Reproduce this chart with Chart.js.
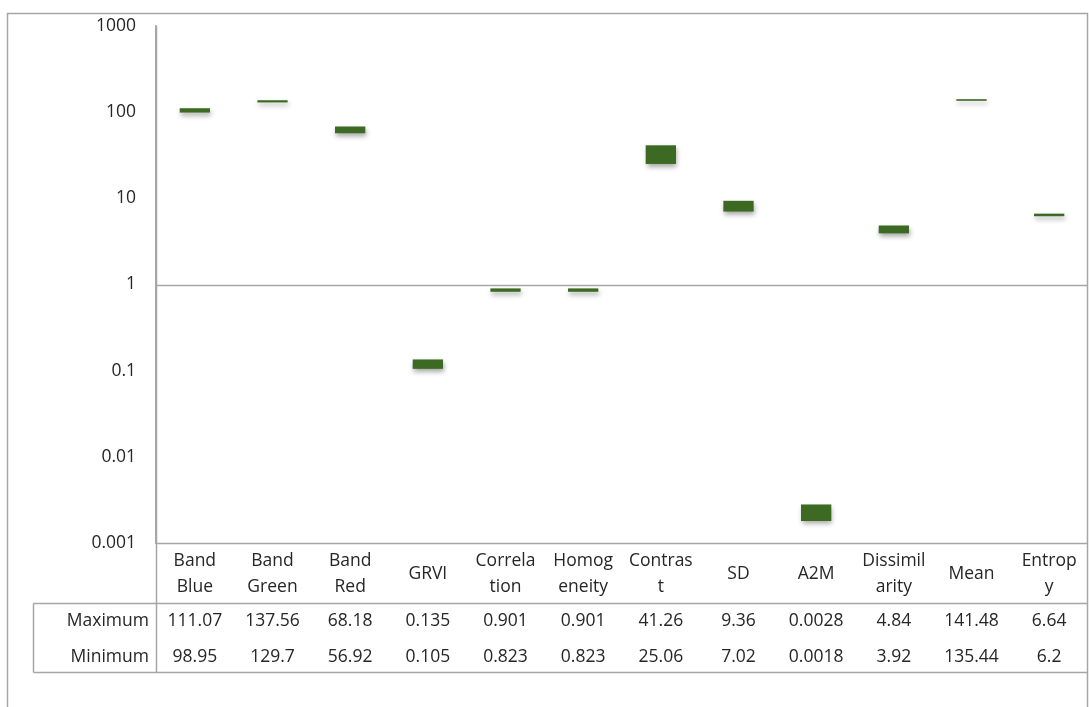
<!DOCTYPE html>
<html>
<head>
<meta charset="utf-8">
<style>
html,body{margin:0;padding:0;background:#fff;}
#wrap{position:relative;width:1089px;height:707px;}
canvas{display:block;}
</style>
<script src="https://cdn.jsdelivr.net/npm/chart.js@4.4.1/dist/chart.umd.min.js"></script>
</head>
<body>
<div id="wrap"><canvas id="c" width="1089" height="707"></canvas></div>
<script>
// ---- data ----
const categories = [
  ["Band","Blue"],["Band","Green"],["Band","Red"],["GRVI"],["Correla","tion"],
  ["Homog","eneity"],["Contras","t"],["SD"],["A2M"],["Dissimil","arity"],["Mean"],["Entrop","y"]
];
const maximumValues = [111.07,137.56,68.18,0.135,0.901,0.901,41.26,9.36,0.0028,4.84,141.48,6.64];
const minimumValues = [98.95,129.7,56.92,0.105,0.823,0.823,25.06,7.02,0.0018,3.92,135.44,6.2];
const maximumLabels = ["111.07","137.56","68.18","0.135","0.901","0.901","41.26","9.36","0.0028","4.84","141.48","6.64"];
const minimumLabels = ["98.95","129.7","56.92","0.105","0.823","0.823","25.06","7.02","0.0018","3.92","135.44","6.2"];
const rowNames = ["Maximum","Minimum"];
const yTickValues = [0.001,0.01,0.1,1,10,100,1000];
const yTickLabels = ["0.001","0.01","0.1","1","10","100","1000"];

const FONT = '"Open Sans", "Liberation Sans", sans-serif';
const FSIZE = 17.5;
const TXT = '#262626';
const LINE = '#a6a6a6';

const tablePlugin = {
  id: 'tablePlugin',
  beforeDraw(chart){
    const ctx = chart.ctx;
    ctx.save();
    ctx.fillStyle = '#fff';
    ctx.fillRect(0,0,chart.width,chart.height);
    ctx.strokeStyle = LINE; ctx.lineWidth = 1.5;
    ctx.beginPath();
    ctx.moveTo(7.5, 707); ctx.lineTo(7.5, 13.5); ctx.lineTo(1087.5, 13.5); ctx.lineTo(1087.5, 707);
    ctx.stroke();
    ctx.restore();
  },
  afterDatasetsDraw(chart){
    const ctx = chart.ctx, x = chart.scales.x, y = chart.scales.y;
    const area = chart.chartArea;
    ctx.save();
    const y1 = Math.round(y.getPixelForValue(1)) + 0.5;
    ctx.strokeStyle = LINE; ctx.lineWidth = 1.5;
    ctx.beginPath(); ctx.moveTo(area.left, y1); ctx.lineTo(area.right, y1); ctx.stroke();
    const top = area.bottom + 0.5, rowTop = 603.5, bottom = 672.5, tl = 33.5;
    ctx.beginPath();
    ctx.moveTo(area.left, top); ctx.lineTo(area.right, top);
    ctx.moveTo(tl, rowTop); ctx.lineTo(area.right, rowTop);
    ctx.moveTo(tl, bottom); ctx.lineTo(area.right, bottom);
    ctx.moveTo(tl, rowTop); ctx.lineTo(tl, bottom);
    ctx.moveTo(area.left + 0.5, area.top); ctx.lineTo(area.left + 0.5, bottom);
    ctx.stroke();
    ctx.fillStyle = TXT;
    ctx.font = FSIZE + 'px ' + FONT;
    ctx.textAlign = 'center'; ctx.textBaseline = 'middle';
    categories.forEach((lab, i) => {
      const cx = x.getPixelForValue(i);
      if (lab.length === 1) {
        ctx.fillText(lab[0], cx, 574);
      } else {
        ctx.fillText(lab[0], cx, 561);
        ctx.fillText(lab[1], cx, 587);
      }
      ctx.fillText(maximumLabels[i], cx, 621);
      ctx.fillText(minimumLabels[i], cx, 657);
    });
    ctx.textAlign = 'right';
    ctx.fillText(rowNames[0], 149, 621);
    ctx.fillText(rowNames[1], 149, 657);
    ctx.restore();
  }
};

const shadowPlugin = {
  id: 'shadowPlugin',
  beforeDatasetDraw(chart){
    const ctx = chart.ctx;
    ctx.save();
    ctx.shadowColor = 'rgba(0,0,0,0.35)';
    ctx.shadowBlur = 5;
    ctx.shadowOffsetX = 1;
    ctx.shadowOffsetY = 3;
  },
  afterDatasetDraw(chart){ chart.ctx.restore(); }
};

function barFill(context){
  const chart = context.chart;
  const el = context.element;
  if (!el || el.y === undefined || isNaN(el.y) || isNaN(el.base)) return '#3c6a22';
  const g = chart.ctx.createLinearGradient(0, Math.min(el.y, el.base), 0, Math.max(el.y, el.base));
  g.addColorStop(0, '#4a7a2f');
  g.addColorStop(1, '#335c1b');
  return g;
}

new Chart(document.getElementById('c'), {
  type: 'bar',
  data: {
    labels: categories.map(c => c.join('')),
    datasets: [{
      label: 'Range',
      data: minimumValues.map((mn, i) => [mn, maximumValues[i]]),
      backgroundColor: barFill,
      borderWidth: 0,
      borderSkipped: false,
      categoryPercentage: 1.0,
      barPercentage: 0.39
    }]
  },
  options: {
    responsive: false,
    animation: false,
    events: [],
    layout: { padding: { top: 26, right: 1, bottom: 0, left: 0 } },
    plugins: { legend: { display: false }, tooltip: { enabled: false }, title: { display: false } },
    scales: {
      x: {
        grid: { display: false },
        border: { display: false },
        ticks: { display: false },
        afterFit(scale){ scale.height = 707 - 543; }
      },
      y: {
        type: 'logarithmic',
        min: 0.001, max: 1000,
        grid: { display: false },
        border: { display: true, color: LINE, width: 1.5 },
        afterBuildTicks(scale){ scale.ticks = yTickValues.map(v => ({ value: v, major: true })); },
        afterFit(scale){ scale.width = 156; },
        ticks: {
          color: TXT,
          font: { family: FONT, size: FSIZE },
          padding: 12,
          autoSkip: false,
          callback(value){ const i = yTickValues.indexOf(value); return i >= 0 ? yTickLabels[i] : ''; }
        }
      }
    }
  },
  plugins: [tablePlugin, shadowPlugin]
});
</script>
</body>
</html>
